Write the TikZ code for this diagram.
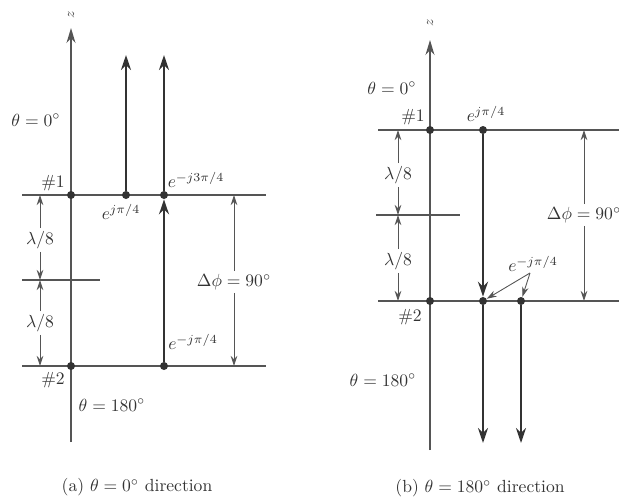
\documentclass[tikz,border=0pt]{standalone}
\usetikzlibrary{arrows.meta,positioning}
\definecolor{feedInk}{HTML}{333333}
\definecolor{feedGray}{HTML}{555555}
\tikzset{
  every picture/.style={font=\normalsize, text=feedInk},
  feed axis/.style={draw=feedGray, line width=0.7pt},
  feed line/.style={draw=feedGray, line width=0.9pt},
  feed wave/.style={-{Stealth[length=3mm,width=2mm]},
    draw=feedInk, line width=1.3pt, line cap=butt},
  feed dim/.style={-{Stealth[length=2mm,width=1.3mm]},
    draw=feedGray, line width=0.5pt},
  feed dot/.style={circle, fill=feedInk, inner sep=0pt, minimum size=1.6mm},
  feed label/.style={inner sep=1.5pt},
  feed zlabel/.style={rotate=90, font=\footnotesize, text=feedGray}
}

\begin{document}
\begin{tikzpicture}[x=0.02cm,y=-0.02cm]
  \useasboundingbox (0,0) rectangle (619,498);
  % (a) theta = 0 direction
  \coordinate (aTop) at (71,28);
  \coordinate (aBot) at (71,442);
  \draw[feed axis,-{Stealth[length=3mm,width=1.8mm]}] (aBot) -- (aTop);
  \node[feed zlabel] (aZ) at (71,15) {$z$};
  \coordinate (a1L) at (22,195); \coordinate (a1R) at (266,195);
  \coordinate (a2L) at (22,366); \coordinate (a2R) at (266,366);
  \coordinate (amL) at (22,280); \coordinate (amR) at (100,280);
  \draw[feed line] (a1L) -- (a1R);
  \draw[feed line] (a2L) -- (a2R);
  \draw[feed line] (amL) -- (amR);
  \node[feed dot] (a1) at (71,195) {};
  \node[feed dot] (a1b) at (126,195) {};
  \node[feed dot] (a1c) at (164,195) {};
  \node[feed dot] (a2) at (71,366) {};
  \node[feed dot] (a2c) at (164,366) {};
  \coordinate (aUpB) at (126,55);
  \coordinate (aUpC) at (164,55);
  \draw[feed wave] (a1b) -- (aUpB);
  \draw[feed wave] (a1c) -- (aUpC);
  \draw[feed wave] (a2c) -- (a1c);
  % lambda/8 spacing
  \coordinate (aD1) at (40,195); \coordinate (aDm) at (40,280); \coordinate (aD2) at (40,366);
  \node[feed label] (aLamA) at (40,240) {$\lambda/8$};
  \node[feed label] (aLamB) at (40,323) {$\lambda/8$};
  \draw[feed dim] (aLamA) -- (aD1);
  \draw[feed dim] (aLamA) -- (aDm);
  \draw[feed dim] (aLamB) -- (aDm);
  \draw[feed dim] (aLamB) -- (aD2);
  \coordinate (aP1) at (234,195); \coordinate (aP2) at (234,366);
  \node[feed label] (aPhi) at (234,282) {$\Delta\phi = 90^\circ$};
  \draw[feed dim] (aPhi) -- (aP1);
  \draw[feed dim] (aPhi) -- (aP2);
  \node (aTh0) at (36,120) {$\theta = 0^\circ$};
  \node (aTh180) at (112,405) {$\theta = 180^\circ$};
  \node (aN1) at (53,183) {\#1};
  \node (aN2) at (53,380) {\#2};
  \node (aEb) at (121,212) {$e^{j\pi/4}$};
  \node (aEc) at (196,180) {$e^{-j3\pi/4}$};
  \node (aEd) at (193,342) {$e^{-j\pi/4}$};
  \node (aCap) at (137,487) {(a) $\theta = 0^\circ$ direction};

  % (b) theta = 180 direction
  \coordinate (bTop) at (430,40);
  \coordinate (bBot) at (430,450);
  \draw[feed axis,-{Stealth[length=3mm,width=1.8mm]}] (bBot) -- (bTop);
  \node[feed zlabel] (bZ) at (430,23) {$z$};
  \coordinate (b1L) at (378,130); \coordinate (b1R) at (619,130);
  \coordinate (b2L) at (378,301); \coordinate (b2R) at (619,301);
  \coordinate (bmL) at (376,215); \coordinate (bmR) at (460,215);
  \draw[feed line] (b1L) -- (b1R);
  \draw[feed line] (b2L) -- (b2R);
  \draw[feed line] (bmL) -- (bmR);
  \node[feed dot] (b1) at (430,130) {};
  \node[feed dot] (b1b) at (483,130) {};
  \node[feed dot] (b2) at (430,301) {};
  \node[feed dot] (b2b) at (483,301) {};
  \node[feed dot] (b2c) at (521,301) {};
  \coordinate (bDnB) at (483,443);
  \coordinate (bDnC) at (521,443);
  \draw[feed wave] (b1b) -- (b2b);
  \draw[feed wave] (b2b) -- (bDnB);
  \draw[feed wave] (b2c) -- (bDnC);
  % lambda/8 spacing
  \coordinate (bD1) at (398,130); \coordinate (bDm) at (398,215); \coordinate (bD2) at (398,301);
  \node[feed label] (bLamA) at (398,175) {$\lambda/8$};
  \node[feed label] (bLamB) at (398,261) {$\lambda/8$};
  \draw[feed dim] (bLamA) -- (bD1);
  \draw[feed dim] (bLamA) -- (bDm);
  \draw[feed dim] (bLamB) -- (bDm);
  \draw[feed dim] (bLamB) -- (bD2);
  \coordinate (bP1) at (584,130); \coordinate (bP2) at (584,301);
  \node[feed label] (bPhi) at (584,215) {$\Delta\phi = 90^\circ$};
  \draw[feed dim] (bPhi) -- (bP1);
  \draw[feed dim] (bPhi) -- (bP2);
  \node (bTh0) at (392,88) {$\theta = 0^\circ$};
  \node (bTh180) at (383,380) {$\theta = 180^\circ$};
  \node (bN1) at (413,117) {\#1};
  \node (bN2) at (410,317) {\#2};
  \node (bEb) at (486,114) {$e^{j\pi/4}$};
  \node (bEd) at (533,264) {$e^{-j\pi/4}$};
  \coordinate (bEfoot) at (530,273);
  \draw[feed dim] (bEfoot) -- (b2b);
  \draw[feed dim] (bEfoot) -- (b2c);
  \node (bCap) at (480,488) {(b) $\theta = 180^\circ$ direction};
\end{tikzpicture}
\end{document}
